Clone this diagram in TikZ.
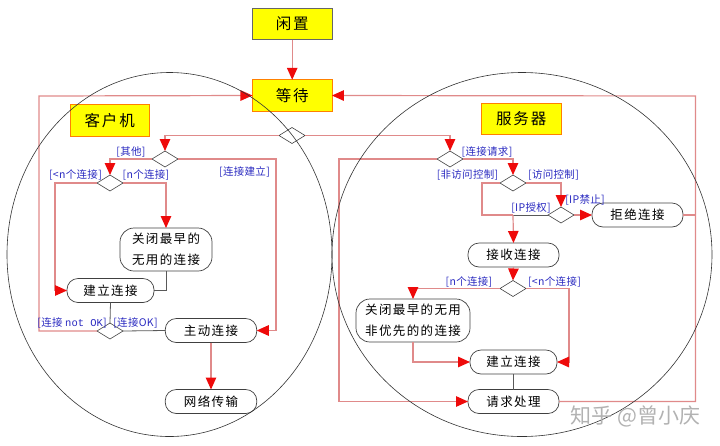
\documentclass[tikz,border=0pt]{standalone}
\usepackage{fontspec}
\usetikzlibrary{arrows.meta,shapes.geometric}
\setmainfont{Noto Sans CJK SC}
\newfontfamily\nodefont[LetterSpace=11]{Noto Sans CJK SC}
\newfontfamily\titlefont[LetterSpace=12]{Noto Sans CJK SC}
\newfontfamily\labelfont[LetterSpace=3]{Noto Sans CJK SC}
\newfontfamily\monofont{Liberation Mono}
\definecolor{flow}{HTML}{E08A8A}
\definecolor{tip}{HTML}{EE0A0A}
\definecolor{lab}{HTML}{2A2AC0}
\definecolor{boxy}{HTML}{FFFF00}
\tikzset{
  x=1pt,y=-1pt,
  every node/.style={inner sep=0pt,outer sep=0pt},
  title/.style={draw=#1,fill=boxy,line width=0.9pt,minimum width=79.5pt,minimum height=31.5pt,font=\titlefont\fontsize{15.5}{18}\selectfont},
  act/.style={draw=black!75,line width=0.7pt,rounded corners=11pt,minimum height=24pt,font=\nodefont\fontsize{12.5}{21}\selectfont,align=center},
  dec/.style={diamond,aspect=1.625,draw=black!75,line width=0.6pt,minimum width=26pt,minimum height=16pt},
  lbl/.style={text=lab,font=\labelfont\fontsize{10.5}{12}\selectfont},
  flowline/.style={draw=flow,line width=1.2pt},
  grayline/.style={draw=black!65,line width=0.8pt},
  arr/.style={flowline,-{Triangle[length=12pt,width=10.5pt,color=tip,fill=tip]}},
  ring/.style={draw=black!80,line width=0.6pt}
}
\begin{document}
\begin{tikzpicture}
\useasboundingbox (0,0) rectangle (720,445);
% titles
\node[title=black!60] (idle) at (292.2,24) {闲置};
\node[title=orange] (wait) at (292.2,95.5) {等待};
\node[title=orange] (client) at (109.7,120.5) {客户机};
\node[title=orange] (server) at (521.2,119) {服务器};
% decisions
\node[dec] (top) at (292,135.5) {};
\node[dec] (c1) at (165,159) {};
\node[dec] (c2) at (110,183) {};
\node[dec] (c3) at (110,331) {};
\node[dec] (s1) at (450,159) {};
\node[dec] (s2) at (513,183) {};
\node[dec] (s3) at (561,215) {};
\node[dec] (s4) at (513,288.5) {};
% client activities
\node[act,minimum width=92pt,minimum height=43pt,rounded corners=14pt] (closeold) at (166,249.5) {关闭最早的\\无用的连接};
\node[act,minimum width=87pt] (build) at (110.5,290.5) {建立连接};
\node[act,minimum width=91.5pt] (active) at (211,330.5) {主动连接};
\node[act,minimum width=91.5pt] (net) at (211,401.5) {网络传输};
% server activities
\node[act,minimum width=91pt] (reject) at (637.5,215) {拒绝连接};
\node[act,minimum width=91pt] (accept) at (513.5,255) {接收连接};
\node[act,minimum width=114pt,minimum height=43pt,rounded corners=14pt] (closesrv) at (413,320.5) {关闭最早的无用\\非优先的的连接};
\node[act,minimum width=87pt] (buildsrv) at (513.5,362) {建立连接};
\node[act,minimum width=91pt] (handle) at (513.5,401.5) {请求处理};
% bend points
\coordinate (loopL) at (39,96);
\coordinate (loopR) at (695.5,96);
\coordinate (c1r) at (276,159);
\coordinate (c2l) at (55,183);
\coordinate (s1l) at (339,159);
\coordinate (s2l) at (482,183);
\coordinate (s2b) at (482,215);
\coordinate (s3j) at (513,215);
\coordinate (s4r) at (569,288.5);
% connectors
\draw[arr] (idle.south) -- (wait.north);
\draw[arr] (c3.west) -| (loopL) -- (wait.west);
\draw[arr] (handle.east) -| (loopR) -- (wait.east);
\draw[flowline] (reject.east) -- (reject.east -| loopR);
\draw[arr] (top.west) -| (c1.north);
\draw[arr] (top.east) -| (s1.north);
\draw[arr] (c1.west) -| (c2.north);
\draw[arr] (c1.east) -- (c1r) |- (active.east);
\draw[arr] (c2.west) -- (c2l) |- (build.west);
\draw[arr] (c2.east) -| (closeold.north);
\draw[grayline] (closeold.south) |- (build.east);
\draw[grayline] (build.south) -- (c3.north);
\draw[grayline] (c3.east) -- (active.west);
\draw[arr] (active.south) -- (net.north);
\draw[arr] (s1.west) -- (s1l) |- (handle.west);
\draw[arr] (s1.east) -| (s2.north);
\draw[flowline] (s2.west) -- (s2l) -- (s2b) -- (s3j);
\draw[grayline] (s3j) -- (s3.west);
\draw[arr] (s3j) -- (accept.north);
\draw[arr] (s2.east) -| (s3.north);
\draw[arr] (s3.east) -- (reject.west);
\draw[arr] (accept.south) -- (s4.north);
\draw[arr] (s4.west) -| (closesrv.north);
\draw[arr] (s4.east) -- (s4r) |- (buildsrv.east);
\draw[arr] (closesrv.south) |- (buildsrv.west);
\draw[grayline] (buildsrv.south) -- (handle.north);
% labels
\node[lbl] (l1) at (131,152) {[其他]};
\node[lbl] (l2) at (75.5,175) {[<n个连接]};
\node[lbl] (l3) at (146,175) {[n个连接]};
\node[lbl] (l4) at (244.5,171.5) {[连接建立]};
\node[lbl] (l5) at (72,323) {[连接 {\monofont not OK}]};
\node[lbl] (l6) at (135.5,323) {[连接OK]};
\node[lbl] (l7) at (487,152) {[连接请求]};
\node[lbl] (l8) at (467.5,175) {[非访问控制]};
\node[lbl] (l9) at (553.5,175) {[访问控制]};
\node[lbl] (l10) at (585,199.5) {[IP禁止]};
\node[lbl] (l11) at (531,207.5) {[IP授权]};
\node[lbl] (l12) at (469,282) {[n个连接]};
\node[lbl] (l13) at (554.5,282) {[<n个连接]};
% big circles
\draw[ring] (169.5,254.5) ellipse [x radius=162.5,y radius=182];
\draw[ring] (522,254.5) ellipse [x radius=190,y radius=182];
% watermark
\node[text=black!30,font=\fontsize{21}{24}\selectfont] (mark) at (635.5,416.5) {知乎 @曾小庆};
\end{tikzpicture}
\end{document}
